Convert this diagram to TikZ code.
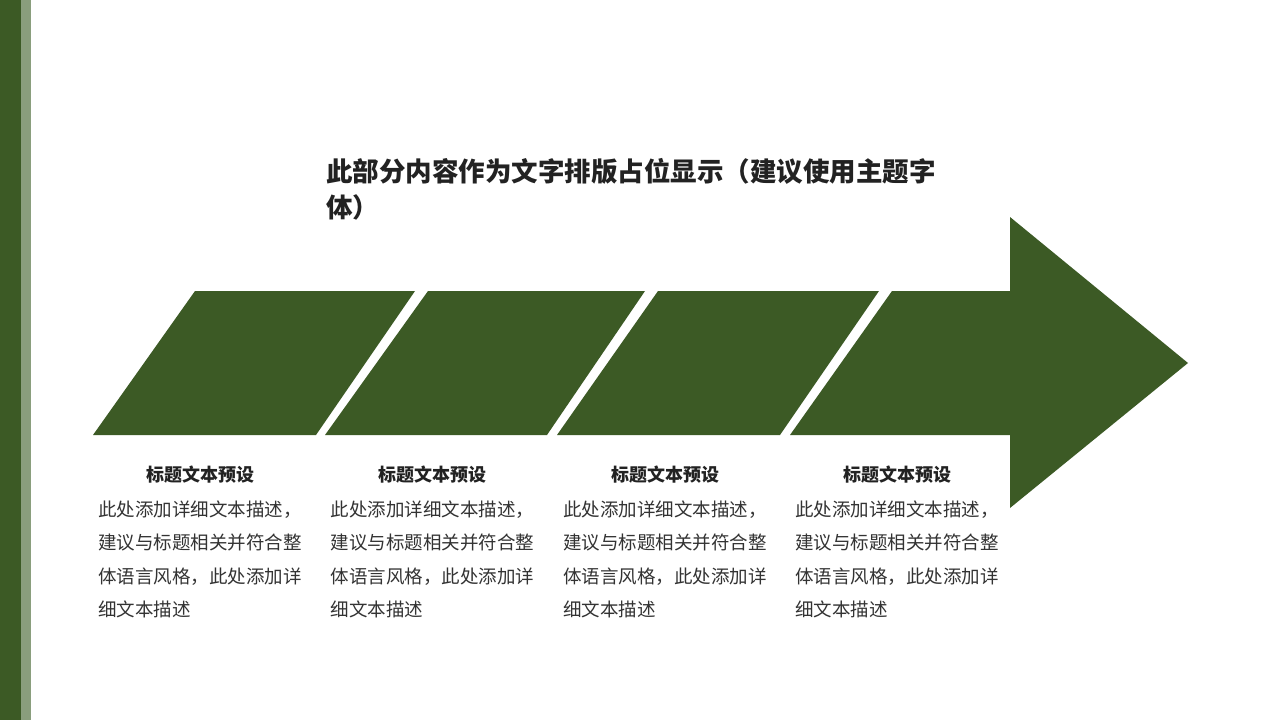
\documentclass[tikz,border=0pt]{standalone}
\usepackage{fontspec}
\newfontfamily\cjk{Noto Sans CJK SC}
\definecolor{dg}{HTML}{3C5A25}
\definecolor{lg}{HTML}{8A9E7D}
\definecolor{tdark}{HTML}{222222}
\definecolor{tbody}{HTML}{333333}
\tikzset{
  seg/.style={fill=dg},
  titletext/.style={anchor=base west,inner sep=0pt,align=left,text=tdark,font={\cjk\bfseries\fontsize{26.5}{36}\selectfont}},
  headtext/.style={anchor=base,inner sep=0pt,text=tdark,font={\cjk\fontsize{18}{22}\selectfont\bfseries}},
  bodytext/.style={anchor=base west,inner sep=0pt,align=left,text=tbody,font={\cjk\fontsize{18.5}{33.5}\selectfont}}
}
\begin{document}
\begin{tikzpicture}[x=1pt,y=-1pt]
\useasboundingbox (0,0) rectangle (1280,720);
\fill[white] (0,0) rectangle (1280,720);
% left bars
\fill[dg] (0,0) rectangle (21,720);
\fill[lg] (21,0) rectangle (31,720);
% arrow segments
\fill[seg] (93,435) -- (195,291) -- (415,291) -- (316,435) -- cycle;
\fill[seg] (325,435) -- (428,291) -- (645,291) -- (547,435) -- cycle;
\fill[seg] (557,435) -- (658,291) -- (879,291) -- (780,435) -- cycle;
\fill[seg] (790,435) -- (892,291) -- (1010,291) -- (1010,217) -- (1188,363) -- (1010,508) -- (1010,435) -- cycle;
% title (base anchor = baseline of last line)
\node[titletext] (title) at (326,217) {此部分内容作为文字排版占位显示（建议使用主题字\\体）};
% columns
\foreach \i/\x in {1/98,2/330.5,3/563,4/795}{
  \node[headtext] (head\i) at (\x+102,481) {标题文本预设};
  \node[bodytext] (body\i) at (\x,616.5) {此处添加详细文本描述，\\建议与标题相关并符合整\\体语言风格，此处添加详\\细文本描述};
}
\end{tikzpicture}
\end{document}
